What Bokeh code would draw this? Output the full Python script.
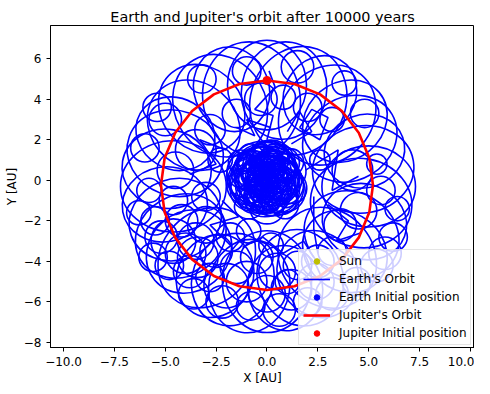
from bokeh.plotting import figure
from bokeh.models import Range1d, FixedTicker, CustomJSTickFormatter, Legend, LegendItem
from bokeh.embed import file_html
from bokeh.resources import INLINE

TITLE = "Earth and Jupiter's orbit after 10000 years"
X_TICKS = [-10.0, -7.5, -5.0, -2.5, 0.0, 2.5, 5.0, 7.5, 10.0]
Y_TICKS = [-8, -6, -4, -2, 0, 2, 4, 6]

SUN = (0.0, 0.0)
EARTH_START = (1.0, 0.0)
JUPITER_START = (0.0, 4.93)

# Jupiter's orbit, points read around the red ellipse
jup_x = [5.21, 5.03, 4.51, 3.68, 2.61, 1.35, 0.00, -1.35, -2.61, -3.68, -4.51, -5.03,
         -5.21, -5.03, -4.51, -3.68, -2.61, -1.35, 0.00, 1.35, 2.61, 3.68, 4.51, 5.03, 5.21]
jup_y = [-0.24, 1.10, 2.35, 3.42, 4.24, 4.75, 4.93, 4.75, 4.24, 3.42, 2.35, 1.10,
         -0.24, -1.58, -2.83, -3.90, -4.72, -5.23, -5.41, -5.23, -4.72, -3.90, -2.83, -1.58, -0.24]

# Earth's orbit: loops (centre, width, height, tilt)
core_x = [-0.1, 0.4, -0.6, 0.2, -0.5, 0.7, -0.9, 0.0, 0.1, -0.4, 0.6, -0.8, 0.8, -0.2, 0.3,
          -0.3, 0.0, -0.5, 0.5, 0.2, -0.2, 0.6, -0.7, 0.0, -0.3, 0.3, 0.1, -0.4, 0.5, -1.0,
          1.0, 0.2, -0.2, -1.1, 1.1, 0.0, -0.3, 0.2, -0.6, 0.7, -0.1, 0.4, -0.8, 1.2, -1.3,
          -0.9, 0.9, 0.0,
          -0.2, 0.1, -0.4, 0.4, 0.0, -0.6, 0.6, -0.1, 0.2, -0.3, 0.3, -0.5, 0.5, 0.0,
          -0.8, 0.8, -0.2, 0.2, -0.7, 0.7, 0.0, -0.4, 0.4, -0.1, 0.1, -0.9, 0.9, 0.3,
          -0.6, -0.2, 0.2, 0.6, -0.9, -0.4, 0.1, 0.5, 0.9, -0.7, -0.2, 0.3, 0.7, -0.5,
          0.0, 0.4, -1.1, 1.0, -0.3, 0.2]
core_y = [0.2, 0.5, 0.4, -0.3, -0.2, 0.0, 0.1, 0.9, -0.6, 0.8, 0.8, -0.5, -0.5, 0.0, 0.2,
          0.5, -0.1, 0.3, 0.4, 0.7, -0.4, -0.2, 0.7, 0.4, 0.1, -0.1, 0.6, -0.1, -0.4, 0.5,
          0.4, 1.1, -0.8, -0.3, -0.3, 0.2, 0.3, -0.2, -0.9, -0.9, -1.0, 1.2, 1.1, 0.9, 0.9,
          -1.3, -1.2, -1.5,
          0.3, 0.0, 0.0, 0.1, 0.5, 0.2, 0.3, -0.2, 0.9, 0.7, -0.5, -0.4, 0.6, 1.0,
          0.3, 0.2, -0.7, -0.8, -0.1, -0.1, -0.3, 0.5, -0.2, 1.2, 0.8, -0.8, -0.7, 0.0,
          0.9, 1.0, 1.0, 0.8, 0.4, 0.5, 0.6, 0.5, 0.1, -0.1, 0.0, -0.1, -0.3, -0.6,
          -0.6, -0.7, 0.2, 0.5, 1.3, -1.1]
core_w = [2.2, 2.1, 2.0, 2.3, 2.2, 2.0, 2.1, 2.2, 2.0, 1.9, 2.0, 2.0, 2.1, 2.6, 2.5,
          2.4, 1.6, 1.5, 1.6, 1.4, 1.5, 1.4, 1.5, 1.2, 1.2, 1.1, 2.8, 2.8, 2.4, 1.8,
          1.8, 1.8, 1.9, 1.7, 1.6, 3.2, 3.4, 3.0, 1.6, 1.5, 2.0, 1.4, 1.3, 1.2, 1.2,
          1.4, 1.3, 1.6,
          1.0, 0.9, 1.1, 1.0, 0.8, 0.9, 1.0, 0.8, 1.1, 1.0, 0.9, 1.0, 0.8, 1.2,
          1.7, 1.8, 1.9, 1.7, 2.2, 2.1, 2.4, 2.3, 2.0, 1.5, 1.6, 1.2, 1.3, 2.6,
          0.7, 0.8, 0.6, 0.7, 0.8, 0.6, 0.7, 0.8, 0.7, 0.6, 0.8, 0.7, 0.6, 0.8,
          0.7, 0.6, 0.9, 0.8, 1.0, 0.9]
core_h = [2.0, 2.3, 2.2, 2.0, 2.1, 2.0, 1.9, 2.0, 2.2, 2.1, 1.8, 2.0, 2.2, 2.4, 2.6,
          2.2, 1.8, 1.6, 1.4, 1.5, 1.4, 1.6, 1.5, 1.3, 1.1, 1.2, 2.6, 2.9, 2.2, 2.0,
          1.9, 1.6, 1.7, 1.8, 1.8, 3.0, 3.2, 3.3, 1.4, 1.6, 1.6, 1.2, 1.4, 1.3, 1.2,
          1.2, 1.4, 1.3,
          0.9, 1.0, 1.0, 0.9, 0.9, 1.0, 0.8, 0.9, 1.0, 1.1, 0.8, 0.9, 1.0, 1.0,
          1.9, 1.6, 1.7, 1.9, 2.0, 2.3, 2.2, 2.5, 2.1, 1.3, 1.4, 1.3, 1.2, 2.4,
          0.6, 0.7, 0.7, 0.6, 0.7, 0.8, 0.6, 0.7, 0.8, 0.7, 0.6, 0.8, 0.7, 0.6,
          0.8, 0.7, 0.8, 0.9, 0.8, 1.0]
core_a = [0, 20, 40, 60, 80, 10, 30, 50, 70, 90, 15, 35, 55, 75, 5,
          25, 45, 65, 85, 12, 32, 52, 72, 0, 20, 40, 60, 80, 100, 120,
          140, 160, 10, 30, 50, 0, 30, 60, 20, 40, 0, 0, 0, 0, 0,
          0, 0, 0,
          0, 30, 60, 90, 120, 150, 10, 40, 70, 100, 130, 160, 20, 50,
          80, 110, 140, 170, 15, 45, 75, 105, 135, 25, 55, 85, 115, 145,
          0, 20, 40, 60, 80, 100, 120, 140, 160, 10, 30, 50, 70, 90,
          110, 130, 0, 45, 90, 135]

ring_x = [5.0, 4.73, 4.79, 4.07, 3.83, 2.96, 2.6, 1.54, 0.84, 0.0, -0.76, -1.74,
          -2.3, -3.21, -3.6, -4.5, -4.51, -4.93, -4.6, -5.02, -4.51, -4.24, -3.83, -2.96,
          -2.55, -1.68, -0.87, 0.0, 0.89, 1.64, 2.5, 2.96, 3.83, 4.16, 4.79, 4.63]
ring_y = [-0.3, 0.54, 1.44, 2.05, 2.92, 3.22, 4.2, 3.93, 4.43, 4.7, 4.03, 4.49,
          3.68, 3.53, 2.72, 2.3, 1.34, 0.57, -0.3, -1.19, -1.94, -2.75, -3.51, -3.82,
          -4.72, -4.9, -5.22, -5.0, -5.32, -4.81, -4.63, -3.82, -3.51, -2.7, -2.04, -1.12]
ring_w = [4.6, 5.0, 4.0, 4.8, 4.4, 5.2, 4.0, 5.4, 4.8, 4.4, 5.6, 4.2,
          5.2, 4.6, 4.8, 4.0, 4.8, 4.4, 5.2, 4.2, 4.6, 4.6, 4.4, 5.2,
          4.2, 4.6, 4.6, 5.0, 4.2, 4.8, 4.4, 5.2, 4.4, 4.8, 4.2, 5.0]
ring_h = [4.0, 4.3, 3.6, 4.1, 3.8, 4.5, 3.5, 4.7, 4.2, 3.9, 4.8, 3.7,
          4.5, 4.0, 4.2, 3.5, 4.2, 3.9, 4.5, 3.7, 4.0, 4.0, 3.9, 4.5,
          3.7, 4.0, 4.0, 4.4, 3.7, 4.2, 3.9, 4.6, 3.8, 4.2, 3.7, 4.4]
ring_a = [0, 10, 20, 30, 40, 50, 60, 70, 80, 90, 100, 110,
          120, 130, 140, 150, 160, 170, 180, 190, 200, 210, 220, 230,
          240, 250, 260, 270, 280, 290, 300, 310, 320, 330, 340, 350]

small_x = [-4.2, -3.5, -2.5, -1.8, -4.6, -3.8, -2.8, -1.5, -0.5, 0.5, 1.5, 2.5, 3.2, 0.2,
           -0.9, 1.0, -5.5, -5.8, -3.5, -2.8, -4.5, -0.3, 0.8, 2.0, -1.5, 3.2, 5.6, 5.4,
           4.2, 4.5, -2.3, -3.0, 3.6, 2.6, -5.0, 4.8, -1.0, 1.5, -3.2, 3.8, 5.8, -5.6,
           -5.2, -4.8, -3.6, -2.2, -0.8, 0.6, 2.0, 3.2, 4.4, 5.4, 6.2, 6.4, -6.3, -6.0,
           -5.4, -4.0, -3.0, -2.0, -1.0, 0.0, 1.2, 2.4, -4.6, -3.4]
small_y = [-2.0, -3.0, -3.5, -2.8, -1.0, -4.5, -4.8, -4.3, -3.8, -4.5, -4.2, -4.0, -3.5, -3.2,
           -2.5, -5.0, -2.0, -0.5, 1.5, 2.5, 0.5, 4.0, 4.1, 3.6, 3.3, 3.0, -0.5, 0.8,
           0.5, -1.5, 1.0, -0.8, -2.2, 1.0, 3.0, 3.3, 5.4, 5.6, 5.0, 4.8, -3.6, -3.8,
           -2.8, -4.2, -5.6, -6.0, -6.2, -6.4, -6.0, -5.6, -5.0, -4.2, -2.8, -1.4, -1.6, 1.6,
           3.6, -3.6, -2.2, -5.2, -5.0, -5.6, -5.4, -5.0, -3.0, -3.8]
small_d = [1.6, 1.8, 1.6, 1.4, 1.4, 1.6, 1.4, 1.6, 1.6, 1.8, 1.4, 1.6, 1.4, 1.2,
           1.2, 1.2, 1.4, 1.2, 2.0, 1.5, 1.8, 1.6, 1.2, 1.4, 1.4, 1.2, 1.4, 1.0,
           2.0, 1.8, 1.2, 1.4, 1.6, 1.0, 1.6, 1.4, 1.4, 1.6, 1.4, 1.2, 1.6, 1.4,
           1.6, 1.4, 1.5, 1.6, 1.4, 1.6, 1.4, 1.6, 1.4, 1.6, 1.4, 1.2, 1.2, 1.4,
           1.4, 2.0, 1.8, 2.2, 2.0, 1.8, 2.0, 1.8, 2.2, 2.0]

zig_xs = [[0.0, 0.3, -0.6, 0.4, 0.1],
          [1.6, 2.6, 3.0, 2.2, 1.6],
          [2.3, 2.3, 2.5],
          [-1.2, -0.2, 0.8, 1.8, 2.3],
          [1.9, 3.5, 3.2, 4.5],
          [-2.0, -3.3, -2.5, -3.8],
          [-1.5, -0.6, -1.0, 0.2],
          [1.0, 1.6, 2.2, 1.2],
          [-2.2, -1.4, -2.8, -1.8],
          [3.0, 4.0, 3.4, 4.6]]
zig_ys = [[2.0, 3.2, 3.5, 4.6, 5.4],
          [2.6, 2.0, 3.1, 3.5, 2.6],
          [-0.8, -2.4, -3.6],
          [-3.3, -2.8, -3.6, -3.0, -3.8],
          [0.5, 1.5, -0.5, 0.2],
          [1.5, 2.0, 0.8, 0.3],
          [2.6, 2.2, 3.0, 2.6],
          [2.4, 3.4, 2.4, 1.8],
          [-1.0, -1.8, -2.2, -3.2],
          [-1.2, -2.0, -3.0, -2.6]]

FONT = "DejaVu Sans"
BLUE = "#0000ff"
RED = "#ff0000"
YELLOW = "#bfbf00"

p = figure(frame_width=424, frame_height=322,
           x_range=Range1d(-10.64, 10.2), y_range=Range1d(-8.25, 7.64),
           output_backend="svg", toolbar_location=None,
           min_border_left=50, min_border_right=0, min_border_top=25, min_border_bottom=36)
p.title.text = TITLE
p.title.align = "center"
p.title.text_font = FONT
p.title.text_font_size = "14.4px"
p.title.text_font_style = "normal"
p.title.text_color = "black"
p.title.standoff = 1
p.grid.visible = False
p.outline_line_color = "black"
p.outline_line_width = 1
p.background_fill_color = "white"
p.border_fill_color = "white"

p.xaxis.ticker = FixedTicker(ticks=X_TICKS)
p.yaxis.ticker = FixedTicker(ticks=Y_TICKS)
p.xaxis.formatter = CustomJSTickFormatter(code="return tick.toFixed(1).replace('-', '\u2212');")
p.yaxis.formatter = CustomJSTickFormatter(code="return tick.toFixed(0).replace('-', '\u2212');")
p.xaxis.axis_label = "X [AU]"
p.yaxis.axis_label = "Y [AU]"
for ax in (p.xaxis, p.yaxis):
    ax.axis_label_text_font = FONT
    ax.axis_label_text_font_size = "12px"
    ax.axis_label_text_font_style = "normal"
    ax.axis_label_text_color = "black"
    ax.major_label_text_font = FONT
    ax.major_label_text_font_size = "12px"
    ax.major_label_text_color = "black"
    ax.major_tick_out = 4
    ax.major_tick_in = 0
    ax.minor_tick_out = 0
    ax.minor_tick_in = 0
    ax.axis_line_color = "black"
    ax.major_tick_line_color = "black"
p.xaxis.major_label_standoff = 5
p.yaxis.major_label_standoff = 5
p.xaxis.axis_label_standoff = 2
p.yaxis.axis_label_standoff = 2

sun = p.scatter([SUN[0]], [SUN[1]], size=7.5, color=YELLOW)
p.ellipse(x=core_x, y=core_y, width=core_w, height=core_h, angle=core_a, angle_units="deg",
          fill_alpha=0, line_color=BLUE, line_width=1.6)
p.ellipse(x=ring_x, y=ring_y, width=ring_w, height=ring_h, angle=ring_a, angle_units="deg",
          fill_alpha=0, line_color=BLUE, line_width=1.6)
p.ellipse(x=small_x, y=small_y, width=small_d, height=small_d,
          fill_alpha=0, line_color=BLUE, line_width=1.6)
earth_line = p.multi_line(zig_xs, zig_ys, line_color=BLUE, line_width=1.6)
earth0 = p.scatter([EARTH_START[0]], [EARTH_START[1]], size=7.5, color=BLUE)
jup_line = p.line(jup_x, jup_y, line_color=RED, line_width=2.6)
jup0 = p.scatter([JUPITER_START[0]], [JUPITER_START[1]], size=8, color=RED)

legend = Legend(items=[
    LegendItem(label="Sun", renderers=[sun]),
    LegendItem(label="Earth's Orbit", renderers=[earth_line]),
    LegendItem(label="Earth Initial position", renderers=[earth0]),
    LegendItem(label="Jupiter's Orbit", renderers=[jup_line]),
    LegendItem(label="Jupiter Initial position", renderers=[jup0]),
], location=(248, 2))
legend.label_text_font = FONT
legend.label_text_font_size = "12px"
legend.label_text_color = "black"
legend.glyph_width = 27
legend.glyph_height = 14
legend.label_height = 14
legend.label_standoff = 9
legend.spacing = 4
legend.padding = 4
legend.margin = 0
legend.background_fill_color = "white"
legend.background_fill_alpha = 0.8
legend.border_line_color = "#cccccc"
legend.border_line_width = 1
p.add_layout(legend)

open("out.html", "w").write(file_html(p, INLINE))
